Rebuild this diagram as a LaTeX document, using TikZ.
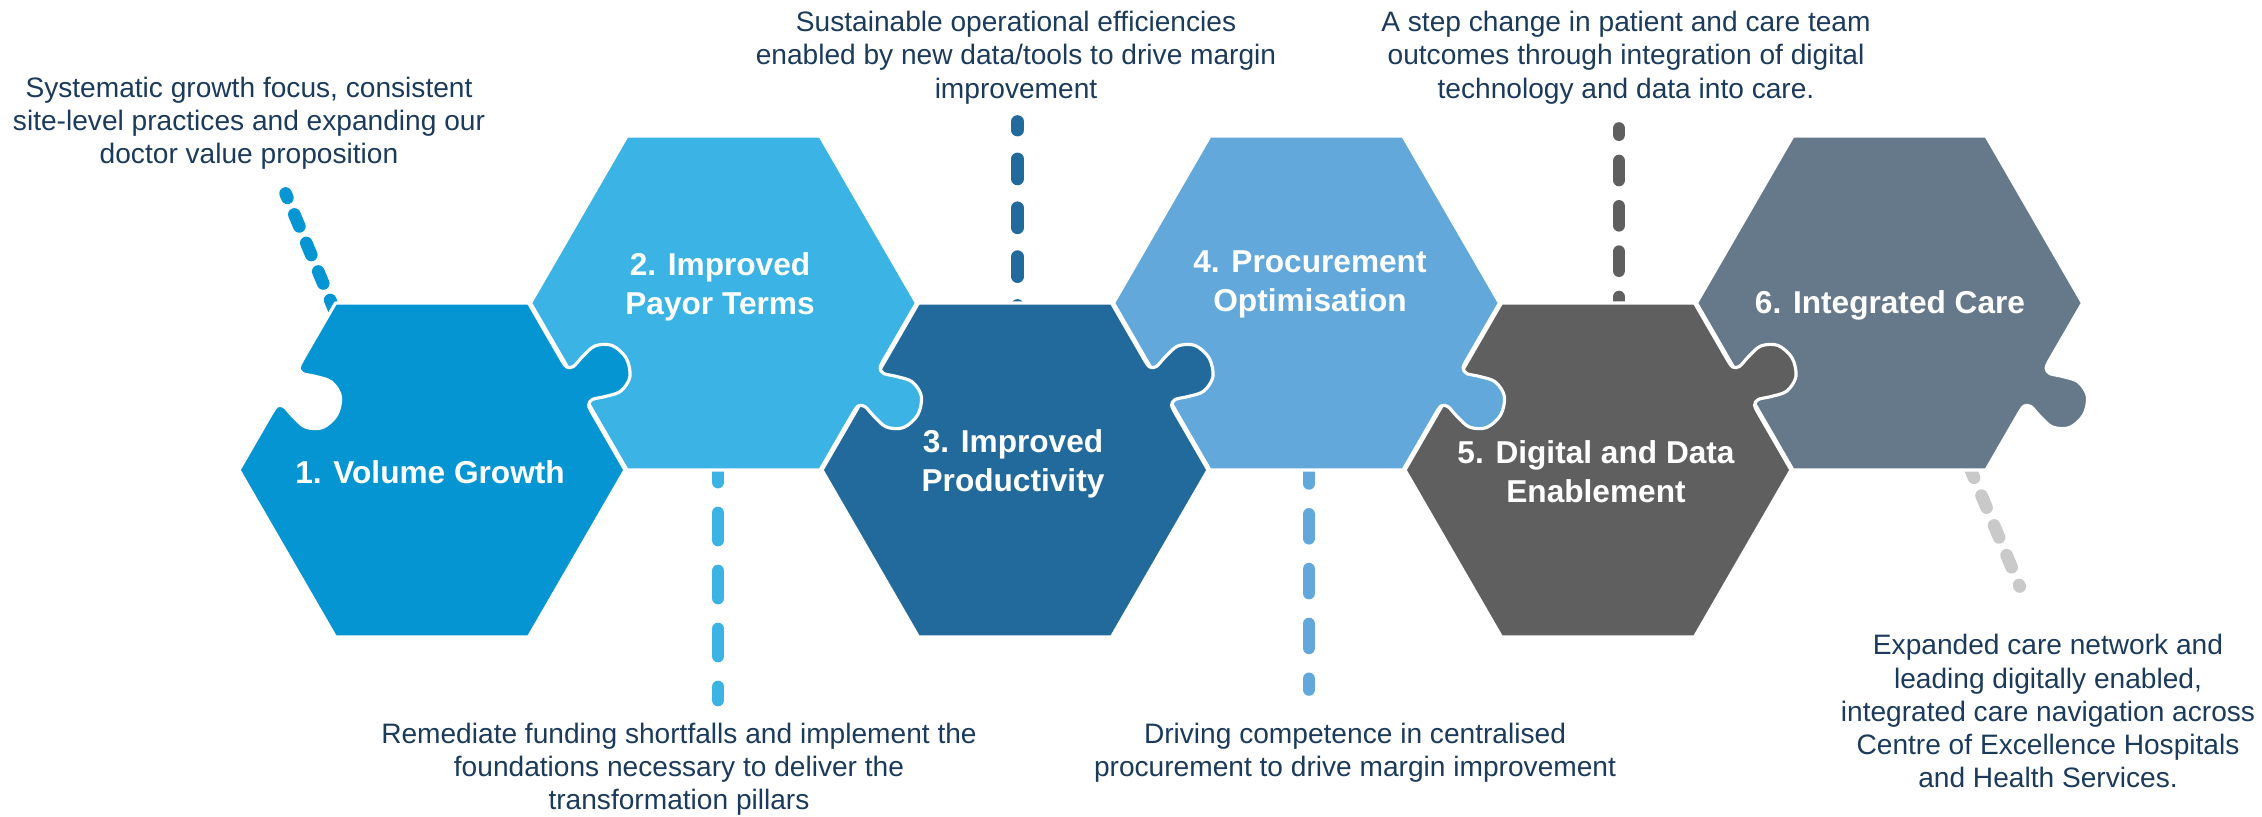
\documentclass[tikz,border=0pt]{standalone}
\usepackage{fontspec}
\setmainfont{Liberation Sans}
\usepackage{xcolor}
\definecolor{vol}{HTML}{0595D3}
\definecolor{payor}{HTML}{3BB3E4}
\definecolor{prod}{HTML}{236A9C}
\definecolor{procure}{HTML}{63A8DB}
\definecolor{digital}{HTML}{5F5F5F}
\definecolor{care}{HTML}{66798B}
\definecolor{leadgrey}{HTML}{C9C9C9}
\definecolor{navy}{HTML}{1B3A5C}
\newcommand{\knob}{-- plot[smooth,tension=.55] coordinates {(-.30,0) (-.22,.01) (-.19,.07) (-.23,.20) (-.26,.36) (-.18,.51) (0,.57) (.18,.51) (.26,.36) (.23,.20) (.19,.07) (.22,.01) (.30,0)}}

\begin{document}
\begin{tikzpicture}[
  piece/.style={draw=white,line width=.9pt,line join=round},
  lead/.style={draw=#1,line width=3.6pt,line cap=round},
  note/.style={align=center,text=navy,font=\fontsize{8}{9.4}\selectfont},
  title/.style={align=center,text=white,font=\bfseries\fontsize{9}{11.1}\selectfont}]
  \useasboundingbox (0,0) rectangle (22.62,-8.17);
  % leader lines first, the pieces hide their start
  \coordinate (a1) at (3.352,-3.12);   \coordinate (b1) at (2.856,-1.935);
  \coordinate (a2) at (7.18,-4.55);    \coordinate (b2) at (7.18,-7.00);
  \coordinate (a3) at (10.175,-3.255); \coordinate (b3) at (10.175,-1.215);
  \coordinate (a4) at (13.09,-4.595);  \coordinate (b4) at (13.09,-6.895);
  \coordinate (a5) at (16.19,-3.16);   \coordinate (b5) at (16.19,-1.285);
  \coordinate (a6) at (19.69,-4.658);  \coordinate (b6) at (20.197,-5.865);
  \draw[lead=vol,dash pattern=on 3.7pt off 5.1pt] (a1) -- (b1);
  \draw[lead=payor,dash pattern=on 7.7pt off 8.8pt] (a2) -- (b2);
  \draw[lead=prod,dash pattern=on 5.7pt off 8.2pt] (a3) -- (b3);
  \draw[lead=procure,dash pattern=on 6.8pt off 8.8pt] (a4) -- (b4);
  \draw[lead=digital,dash pattern=on 5.4pt off 7.5pt] (a5) -- (b5);
  \draw[lead=leadgrey,dash pattern=on 3.7pt off 5.5pt] (a6) -- (b6);
  % pieces, last one first so each knob lies on its neighbour
  \filldraw[piece,fill=care,shift={(18.895,-3.03)}] (-1.93,0) -- (-.965,1.67) -- (.965,1.67) -- (1.93,0) {[shift={(1.4475,-.835)},rotate=-120] \knob} -- (.965,-1.67) -- (-.965,-1.67) -- cycle;
  \filldraw[piece,fill=digital,shift={(15.98,-4.70)}] (-1.93,0) -- (-.965,1.67) -- (.965,1.67) {[shift={(1.4475,.835)},rotate=-60] \knob} -- (1.93,0) -- (.965,-1.67) -- (-.965,-1.67) -- cycle;
  \filldraw[piece,fill=procure,shift={(13.065,-3.03)}] (-1.93,0) -- (-.965,1.67) -- (.965,1.67) -- (1.93,0) {[shift={(1.4475,-.835)},rotate=-120] \knob} -- (.965,-1.67) -- (-.965,-1.67) -- cycle;
  \filldraw[piece,fill=prod,shift={(10.15,-4.70)}] (-1.93,0) -- (-.965,1.67) -- (.965,1.67) {[shift={(1.4475,.835)},rotate=-60] \knob} -- (1.93,0) -- (.965,-1.67) -- (-.965,-1.67) -- cycle;
  \filldraw[piece,fill=payor,shift={(7.235,-3.03)}] (-1.93,0) -- (-.965,1.67) -- (.965,1.67) -- (1.93,0) {[shift={(1.4475,-.835)},rotate=-120] \knob} -- (.965,-1.67) -- (-.965,-1.67) -- cycle;
  \filldraw[piece,fill=vol,shift={(4.32,-4.70)}] (-1.93,0) -- (-.965,1.67) -- (.965,1.67) {[shift={(1.4475,.835)},rotate=-60] \knob} -- (1.93,0) -- (.965,-1.67) -- (-.965,-1.67) -- cycle;
  % open slot on the first piece
  \filldraw[piece,fill=white,shift={(4.32,-4.70)},shift={(-1.4475,.835)},rotate=-120] (-.30,0) \knob -- cycle;
  % titles
  \node[title] (h1) at (4.30,-4.72) {1. Volume Growth};
  \node[title] (h2) at (7.20,-2.87) {2. Improved\\Payor Terms};
  \node[title] (h3) at (10.13,-4.64) {3. Improved\\Productivity};
  \node[title] (h4) at (13.10,-2.84) {4. Procurement\\Optimisation};
  \node[title] (h5) at (15.96,-4.72) {5. Digital and Data\\Enablement};
  \node[title] (h6) at (18.90,-3.05) {6. Integrated Care};
  % notes
  \node[note] (n1) at (2.49,-1.23) {Systematic growth focus, consistent\\site-level practices and expanding our\\doctor value proposition};
  \node[note] (n2) at (6.79,-7.69) {Remediate funding shortfalls and implement the\\foundations necessary to deliver the\\transformation pillars};
  \node[note] (n3) at (10.16,-0.577) {Sustainable operational efficiencies\\enabled by new data/tools to drive margin\\improvement};
  \node[note] (n4) at (13.55,-7.525) {Driving competence in centralised\\procurement to drive margin improvement};
  \node[note] (n5) at (16.26,-0.577) {A step change in patient and care team\\outcomes through integration of digital\\technology and data into care.};
  \node[note] (n6) at (20.48,-7.11) {Expanded care network and\\leading digitally enabled,\\integrated care navigation across\\Centre of Excellence Hospitals\\and Health Services.};
\end{tikzpicture}
\end{document}
